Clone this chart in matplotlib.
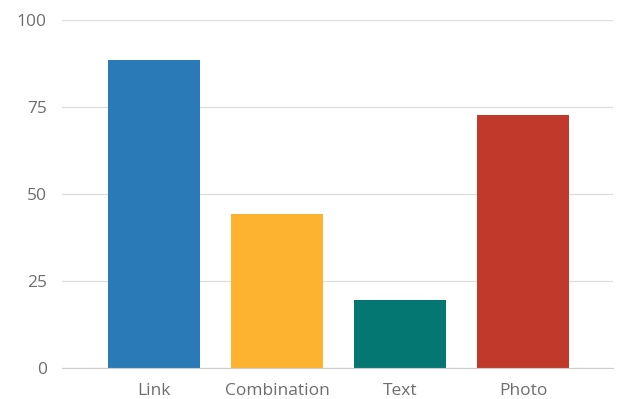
import matplotlib.pyplot as plt

categories = ['Link', 'Combination', 'Text', 'Photo']
values = [88.6, 44.2, 19.3, 72.7]
colors = ['#2a7ab8', '#fdb32f', '#047772', '#c1392b']
yticks = [0, 25, 50, 75, 100]

plt.rcParams['font.family'] = ['Open Sans', 'DejaVu Sans']

fig = plt.figure(figsize=(6.19, 3.99), dpi=100)
ax = fig.add_axes([62/619, 1 - 367.5/399, (613 - 62)/619, (367.5 - 20)/399])

x = range(len(categories))
ax.bar(x, values, width=0.75, color=colors, zorder=3)

ax.set_ylim(0, 100)
ax.set_xlim(-0.75, 3.73)
ax.set_yticks(yticks)
ax.set_xticks(list(x))
ax.set_xticklabels(categories)

ax.grid(axis='y', color='#dddddd', linewidth=0.9, zorder=0)
for side in ['left', 'right', 'top']:
    ax.spines[side].set_visible(False)
ax.spines['bottom'].set_color('#cccccc')
ax.spines['bottom'].set_zorder(4)

ax.tick_params(axis='both', length=0, labelsize=12.5, colors='#6e6e6e')
ax.tick_params(axis='y', pad=11)
ax.tick_params(axis='x', pad=11)

fig.savefig('out.png', dpi=100)
